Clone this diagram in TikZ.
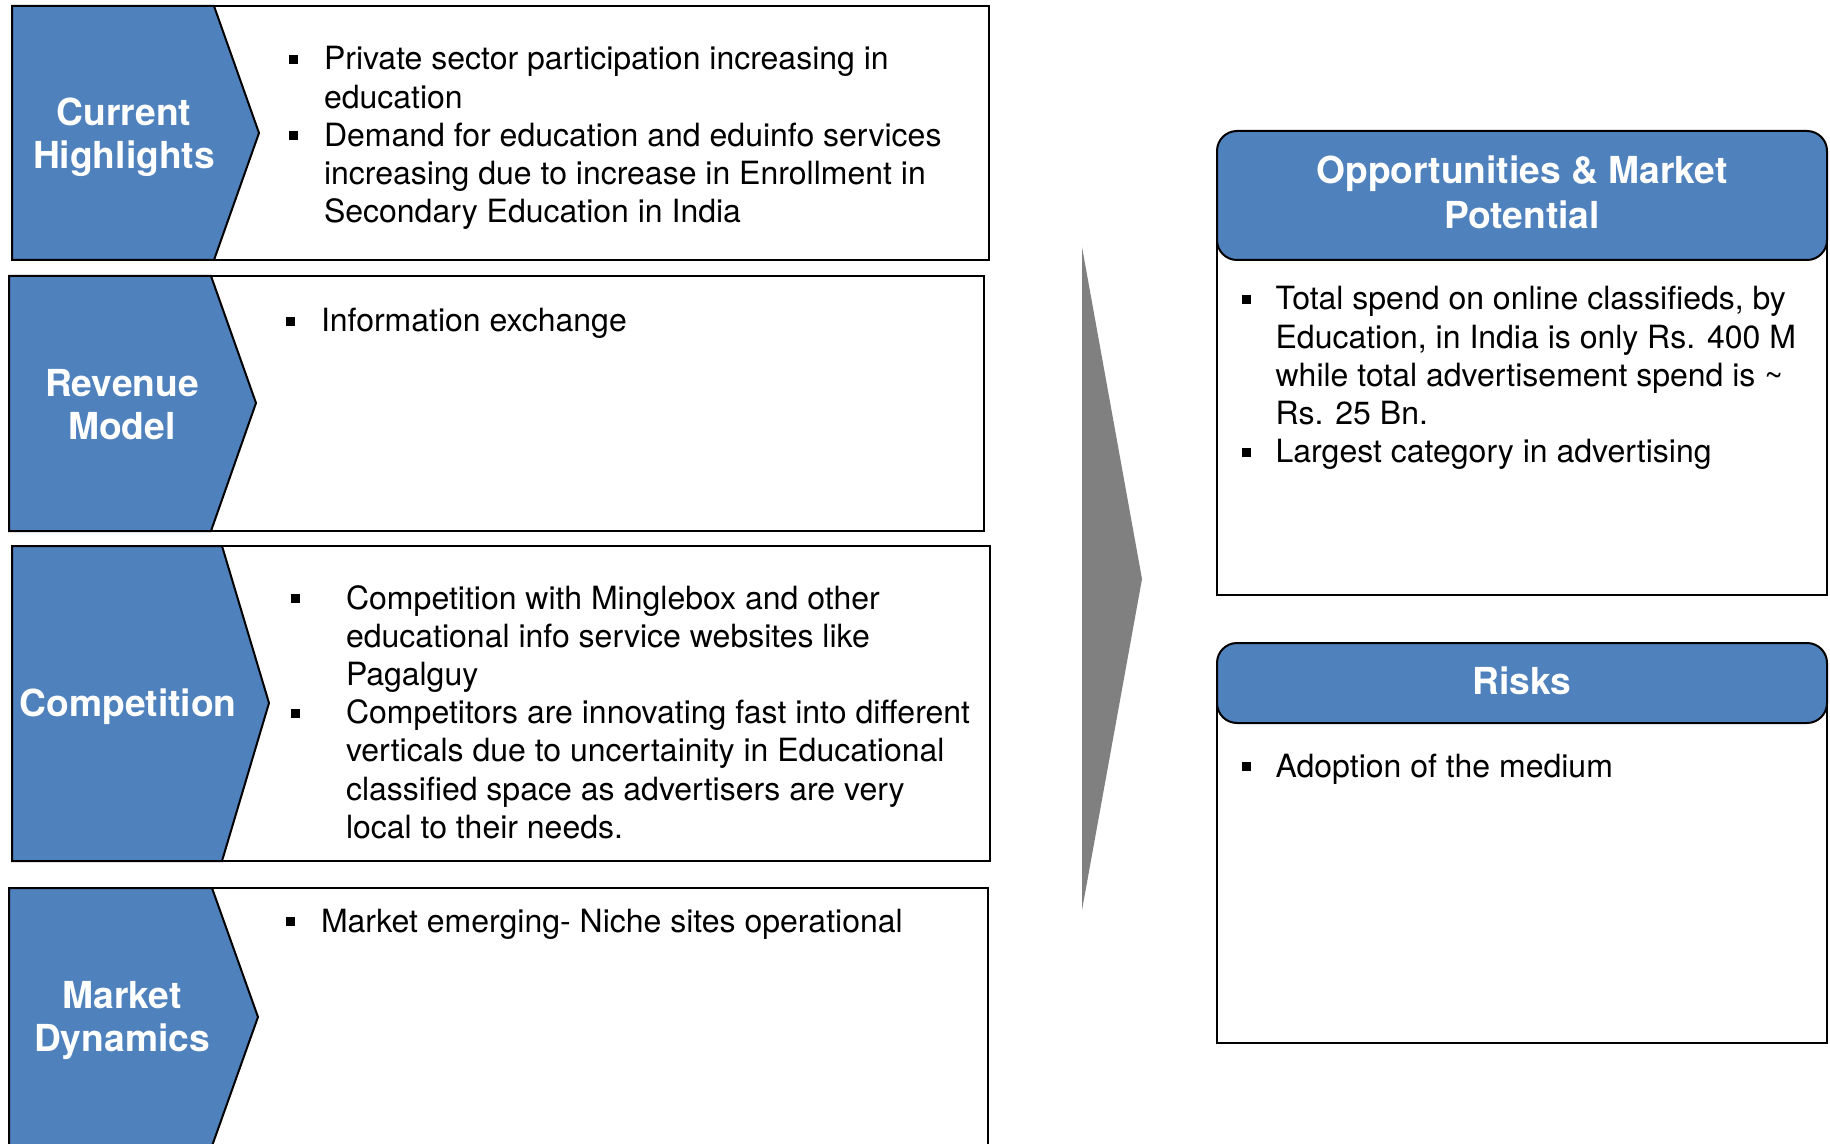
\documentclass[tikz,border=0pt]{standalone}
\usepackage{fontspec}
\setmainfont{TeX Gyre Heros}
\definecolor{hdrblue}{HTML}{4F81BD}
\definecolor{arrowgray}{HTML}{808080}
\newcommand\listfont{\fontsize{16}{19.1}\selectfont}
\newcommand\tabfont{\fontsize{18.6}{21.5}\selectfont\bfseries}
\newcommand\sqb{\rule[3pt]{4.5pt}{4.5pt}}
\newcommand\bulletlist[2]{\begin{tabular}[t]{@{}p{#1}@{}l@{}}#2\end{tabular}}
\newcommand\titlelines[1]{\begin{tabular}[t]{@{}c@{}}#1\end{tabular}}
\begin{document}
\begin{tikzpicture}[x=0.5pt,y=-0.5pt,
  panel/.style={draw=black,line width=1pt,fill=white},
  chevron/.style={draw=black,line width=1pt,fill=hdrblue},
  tabtitle/.style={text=white,font=\tabfont,inner sep=0pt,anchor=base},
  listtext/.style={font=\listfont,inner sep=0pt,anchor=base west}]
\useasboundingbox (0,0) rectangle (1830,1144);
\draw[panel] (12,6) rectangle (989,260);
\draw[chevron] (12,6) -- (214,6) -- (259,133) -- (214,260) -- (12,260) -- cycle;
\node[tabtitle] (hltitle) at (124,126) {\titlelines{Current\\Highlights}};
\node[listtext] (hllist) at (289,70) {\bulletlist{17.3pt}{\sqb & Private sector participation increasing in\\
 & education\\
\sqb & Demand for education and eduinfo services\\
 & increasing due to increase in Enrollment in\\
 & Secondary Education in India}};
\draw[panel] (9,276) rectangle (984,531);
\draw[chevron] (9,276) -- (211,276) -- (256,403) -- (211,531) -- (9,531) -- cycle;
\node[tabtitle] (revtitle) at (122,396) {\titlelines{Revenue\\Model}};
\node[listtext] (revlist) at (286,332) {\bulletlist{17.3pt}{\sqb & Information exchange}};
\draw[panel] (12,546) rectangle (990,861);
\draw[chevron] (12,546) -- (222,546) -- (269,703) -- (222,861) -- (12,861) -- cycle;
\node[tabtitle] (comptitle) at (128,716) {\titlelines{Competition}};
\node[listtext] (complist) at (291,609) {\bulletlist{27.3pt}{\sqb & Competition with Minglebox and other\\
 & educational info service websites like\\
 & Pagalguy\\
\sqb & Competitors are innovating fast into different\\
 & verticals due to uncertainity in Educational\\
 & classified space as advertisers are very\\
 & local to their needs.}};
\draw[panel] (9,888) rectangle (988,1146);
\draw[chevron] (9,888) -- (212,888) -- (258,1017) -- (212,1146) -- (9,1146) -- cycle;
\node[tabtitle] (mkttitle) at (122,1008) {\titlelines{Market\\Dynamics}};
\node[listtext] (mktlist) at (286,932) {\bulletlist{17.3pt}{\sqb & Market emerging- Niche sites operational}};
\fill[arrowgray] (1082,247) -- (1142,579) -- (1082,910) -- cycle;
\draw[panel] (1217,195) rectangle (1827,595);
\draw[chevron,rounded corners=10pt] (1217,131) rectangle (1827,260);
\node[tabtitle] (opptitle) at (1522,184) {\fontsize{18.6}{22.2}\selectfont\titlelines{Opportunities \& Market\\Potential}};
\node[listtext] (opplist) at (1242,310) {\bulletlist{16.6pt}{\sqb & Total spend on online classifieds, by\\
 & Education, in India is only Rs. 400 M\\
 & while total advertisement spend is \textasciitilde\\
 & Rs. 25 Bn.\\
\sqb & Largest category in advertising}};
\draw[panel] (1217,683) rectangle (1827,1043);
\draw[chevron,rounded corners=10pt] (1217,643) rectangle (1827,723);
\node[tabtitle] (risktitle) at (1522,694) {\titlelines{Risks}};
\node[listtext] (risklist) at (1242,777) {\bulletlist{16.6pt}{\sqb & Adoption of the medium}};
\end{tikzpicture}
\end{document}
